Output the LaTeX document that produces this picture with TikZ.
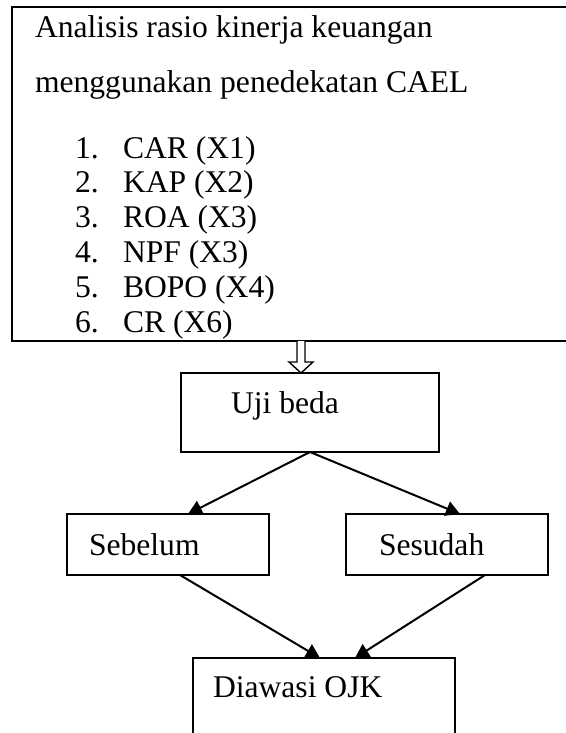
\documentclass[tikz,border=0pt]{standalone}
\usepackage{fontspec}
\setmainfont{Liberation Serif}
\usetikzlibrary{arrows.meta,calc}
\begin{document}
\begin{tikzpicture}[x=1pt,y=-1pt,
  box/.style={draw,line width=1.5pt,inner sep=0pt,outer sep=0pt,anchor=north west,shape=rectangle},
  txt/.style={anchor=base west,inner sep=0pt,outer sep=0pt,font=\fontsize{31.6}{36}\selectfont},
  conn/.style={line width=2pt,-{Triangle[length=14pt,width=15pt]}},
  hollow/.style={line width=1.4pt,fill=white}]
\useasboundingbox (0,0) rectangle (565,733);
% top box
\node[box,line width=2.4pt,minimum width=570pt,minimum height=334pt] (top) at (12,7) {};
\node[txt] (t1) at (35,38) {Analisis rasio kinerja keuangan};
\node[txt] (t2) at (35,93) {menggunakan penedekatan CAEL};
\foreach \n/\lab [count=\i from 0] in {1./CAR (X1),2./KAP (X2),3./ROA (X3),4./NPF (X3),5./BOPO (X4),6./CR (X6)}{
  \node[txt] (n\i) at (75,158+34.8*\i) {\n};
  \node[txt] (l\i) at (123,158+34.8*\i) {\lab};
}
% boxes
\node[box,minimum width=258pt,minimum height=79pt] (uji) at (181,373) {};
\node[txt] (tuji) at (231,413) {Uji beda};
\node[box,minimum width=202pt,minimum height=61pt] (sebelum) at (67,514) {};
\node[txt] (tseb) at (89,555) {Sebelum};
\node[box,minimum width=202pt,minimum height=61pt] (sesudah) at (346,514) {};
\node[txt] (tses) at (379,555) {Sesudah};
\node[box,minimum width=262pt,minimum height=100pt] (ojk) at (193,658) {};
\node[txt] (tojk) at (213,697) {Diawasi OJK};
% hollow arrow
\coordinate (ha) at (top.south -| 301,0);
\draw[hollow] ($(ha)+(-4,0)$) -- ($(ha)+(-4,21)$) -- ($(ha)+(-12,21)$) -- (uji.north -| ha) -- ($(ha)+(12,21)$) -- ($(ha)+(4,21)$) -- ($(ha)+(4,0)$);
% connectors
\draw[conn] (uji.south) -- ($(sebelum.north west)+(121,0)$);
\draw[conn] (uji.south) -- ($(sesudah.north west)+(114,0)$);
\draw[conn] ($(sebelum.south west)+(113,0)$) -- ($(ojk.north west)+(127,0)$);
\draw[conn] ($(sesudah.south west)+(139,0)$) -- ($(ojk.north west)+(162,0)$);
\end{tikzpicture}
\end{document}
